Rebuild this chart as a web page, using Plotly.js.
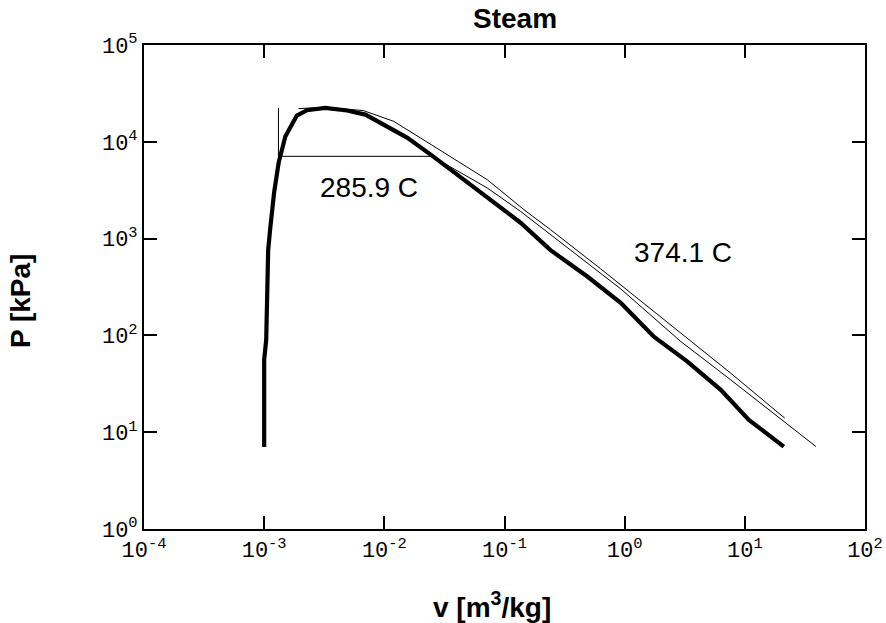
<!DOCTYPE html>
<html>
<head>
<meta charset="utf-8">
<script src="https://cdn.plot.ly/plotly-3.0.1.min.js"></script>
<style>html,body{margin:0;padding:0;background:#fff;}#chart{width:886px;height:623px;}</style>
</head>
<body>
<div id="chart"></div>
<script>
// Saturation dome (thick)
const satV = [0.001, 0.001, 0.00104, 0.00106, 0.00108, 0.00112, 0.00121, 0.00132, 0.0015, 0.00187, 0.00227, 0.00322, 0.00489, 0.00695, 0.01545, 0.0256, 0.0592, 0.136, 0.2415, 0.489, 0.927, 1.75, 3.33, 6.31, 10.8, 21.1];
const satP = [7.05, 56, 90, 233, 767, 1230, 2985, 6100, 11320, 18660, 21180, 22440, 21040, 19100, 11040, 7030, 3206, 1459, 760, 406, 217, 96.8, 53.7, 27.4, 13.4, 7.1];
// Isotherm 285.9 C (thin)
const iso1V = [0.001315, 0.001315, 0.02497, 0.0430, 0.0718, 0.136, 0.2417, 0.926, 2.93, 7.64, 39.1];
const iso1P = [22400, 7080, 7080, 4768, 3336, 1910, 1097, 303, 86.5, 34.7, 7.10];
// Isotherm 374.1 C (thin)
const iso2V = [0.00193, 0.00322, 0.00668, 0.01195, 0.01995, 0.0430, 0.0718, 0.145, 0.2417, 0.631, 2.93, 7.64, 21.5];
const iso2P = [22030, 22740, 21030, 16290, 10970, 6050, 4064, 1991, 1236, 488, 105.6, 40.7, 13.95];

const xTickVals = [1e-4, 1e-3, 1e-2, 1e-1, 1e0, 1e1, 1e2];
const xTickText = ['10<sup>-4</sup>', '10<sup>-3</sup>', '10<sup>-2</sup>', '10<sup>-1</sup>', '10<sup>0</sup>', '10<sup>1</sup>', '10<sup>2</sup>'];
const yTickVals = [1e0, 1e1, 1e2, 1e3, 1e4, 1e5];
const yTickText = ['10<sup>0</sup>', '10<sup>1</sup>', '10<sup>2</sup>', '10<sup>3</sup>', '10<sup>4</sup>', '10<sup>5</sup>'];

const traces = [
  {x: satV, y: satP, mode: 'lines', name: 'Saturation', line: {color: '#000', width: 4.2}},
  {x: iso1V, y: iso1P, mode: 'lines', name: '285.9 C', line: {color: '#000', width: 1}},
  {x: iso2V, y: iso2P, mode: 'lines', name: '374.1 C', line: {color: '#000', width: 1}}
];

const tickFont = {family: 'Liberation Mono, DejaVu Sans Mono, monospace', size: 22, color: '#000'};
const bigFont = {family: 'Liberation Sans, Arial, sans-serif', size: 28, color: '#000'};

const axisCommon = {
  type: 'log', showgrid: false, zeroline: false,
  showline: true, linecolor: '#000', linewidth: 2, mirror: 'ticks',
  ticks: 'inside', ticklen: 13, tickwidth: 2, tickcolor: '#000',
  tickfont: tickFont, tickmode: 'array'
};

const layout = {
  width: 886, height: 623,
  margin: {l: 144, r: 21, t: 45, b: 94},
  paper_bgcolor: '#fff', plot_bgcolor: '#fff',
  showlegend: false,
  xaxis: Object.assign({}, axisCommon, {range: [-4, 2], tickvals: xTickVals, ticktext: xTickText}),
  yaxis: Object.assign({}, axisCommon, {range: [0, 5], tickvals: yTickVals, ticktext: yTickText}),
  annotations: [
    {xref: 'x', yref: 'y', x: -2.125, y: 3.526, text: '285.9 C', showarrow: false, font: bigFont, xanchor: 'center', yanchor: 'middle'},
    {xref: 'x', yref: 'y', x: 0.4875, y: 2.854, text: '374.1 C', showarrow: false, font: bigFont, xanchor: 'center', yanchor: 'middle'},
    {xref: 'paper', yref: 'paper', x: 0.5146, y: 1.054, text: '<b>Steam</b>', showarrow: false, font: bigFont, xanchor: 'center', yanchor: 'middle'},
    {xref: 'paper', yref: 'paper', x: 0.4827, y: -0.157, text: '<b>v [m<sup>3</sup>/kg]</b>', showarrow: false, font: bigFont, xanchor: 'center', yanchor: 'middle'},
    {xref: 'paper', yref: 'paper', x: -0.172, y: 0.471, text: '<b>P [kPa]</b>', showarrow: false, font: bigFont, textangle: -90, xanchor: 'center', yanchor: 'middle'}
  ]
};

Plotly.newPlot('chart', traces, layout, {displayModeBar: false, staticPlot: true});
</script>
</body>
</html>
